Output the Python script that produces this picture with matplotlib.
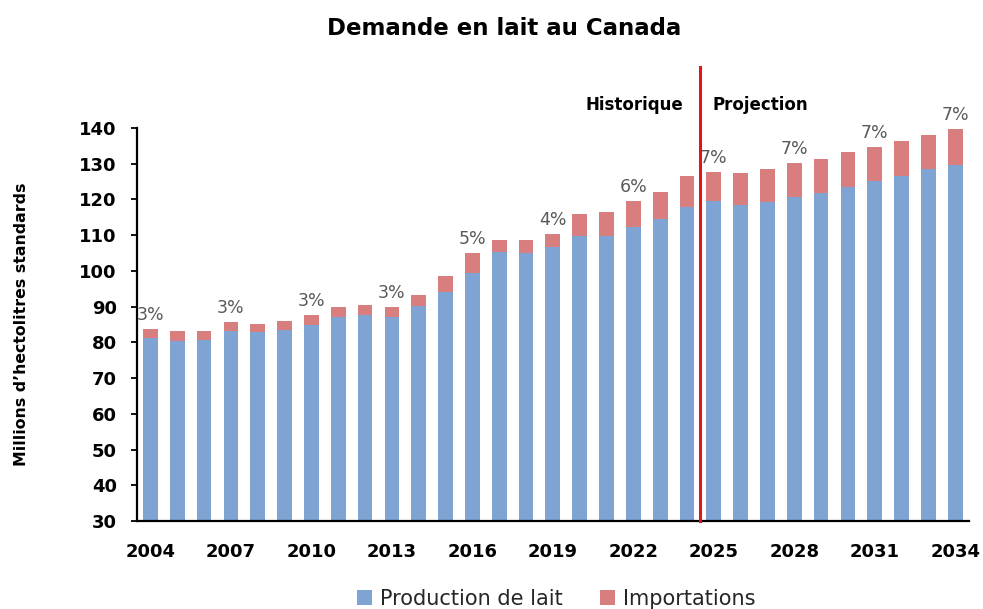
import numpy as np
import matplotlib
matplotlib.use('Agg')
import matplotlib.pyplot as plt

plt.rcParams['font.family'] = ['DejaVu Sans']

annees = list(range(2004, 2035))
production = [81.3, 80.5, 80.7, 83.2, 82.9, 83.4, 84.8, 87.0, 87.6, 87.0,
              90.3, 94.0, 99.3, 105.4, 105.1, 106.8, 109.8, 109.8, 112.2, 114.5,
              118.0, 119.5, 118.4, 119.2, 120.6, 121.7, 123.6, 125.3, 126.6, 128.4,
              129.6]
total = [83.7, 83.2, 83.2, 85.7, 85.1, 86.0, 87.6, 89.8, 90.4, 89.8,
         93.3, 98.6, 104.9, 108.7, 108.7, 110.2, 115.9, 116.6, 119.7, 122.2,
         126.6, 127.8, 127.3, 128.5, 130.1, 131.3, 133.4, 134.8, 136.5, 138.0,
         139.6]
importations = [t - p for t, p in zip(total, production)]
pourcentages = {2004: '3%', 2007: '3%', 2010: '3%', 2013: '3%', 2016: '5%',
                2019: '4%', 2022: '6%', 2025: '7%', 2028: '7%', 2031: '7%',
                2034: '7%'}

bleu = '#7FA3D2'
rouge = '#D87E7E'

fig = plt.figure(figsize=(9.83, 6.09), dpi=100)
ax = fig.add_axes([0.1394, 0.1445, 0.846, 0.6453])

x = np.arange(len(annees))
ax.bar(x, production, width=0.55, color=bleu, label='Production de lait', zorder=2)
ax.bar(x, importations, width=0.55, bottom=production, color=rouge, label='Importations', zorder=2)

for i, a in enumerate(annees):
    if a in pourcentages:
        ax.text(i, total[i] + 1.4, pourcentages[a], ha='center', va='bottom',
                fontsize=12.5, color='#595959')

ax.set_ylim(30, 140)
ax.set_xlim(-0.5, 30.5)
ax.set_yticks(range(30, 141, 10))
ax.set_xticks([i for i, a in enumerate(annees) if (a - 2004) % 3 == 0])
ax.set_xticklabels([str(a) for a in annees if (a - 2004) % 3 == 0])
ax.tick_params(axis='x', length=0, pad=16, labelsize=13)
ax.tick_params(axis='y', length=4.5, width=1.3, direction='out', pad=10, labelsize=13)
for lab in ax.get_xticklabels() + ax.get_yticklabels():
    lab.set_fontweight('bold')
for s in ['top', 'right']:
    ax.spines[s].set_visible(False)
for s in ['left', 'bottom']:
    ax.spines[s].set_linewidth(1.6)

# ligne de séparation historique / projection
ax.plot([20.5, 20.5], [30, 157], color='#E0161B', lw=2.2, clip_on=False, zorder=3)
ax.text(19.85, 146.5, 'Historique', ha='right', va='center', fontsize=12, fontweight='bold')
ax.text(20.95, 146.5, 'Projection', ha='left', va='center', fontsize=12, fontweight='bold')

ax.set_ylabel('Millions d\u2019hectolitres standards', fontsize=11.3, fontweight='bold')
ax.yaxis.set_label_coords(-0.13, 0.5)

fig.text(0.513, 0.953, 'Demande en lait au Canada', ha='center', va='center',
         fontsize=16.5, fontweight='bold')

fig.legend(loc='center', bbox_to_anchor=(0.566, 0.017), ncol=2, frameon=False,
           fontsize=15, handlelength=0.7, handleheight=0.7, handletextpad=0.4,
           columnspacing=1.8, labelcolor='#262626')

fig.savefig('out.png', dpi=100)
